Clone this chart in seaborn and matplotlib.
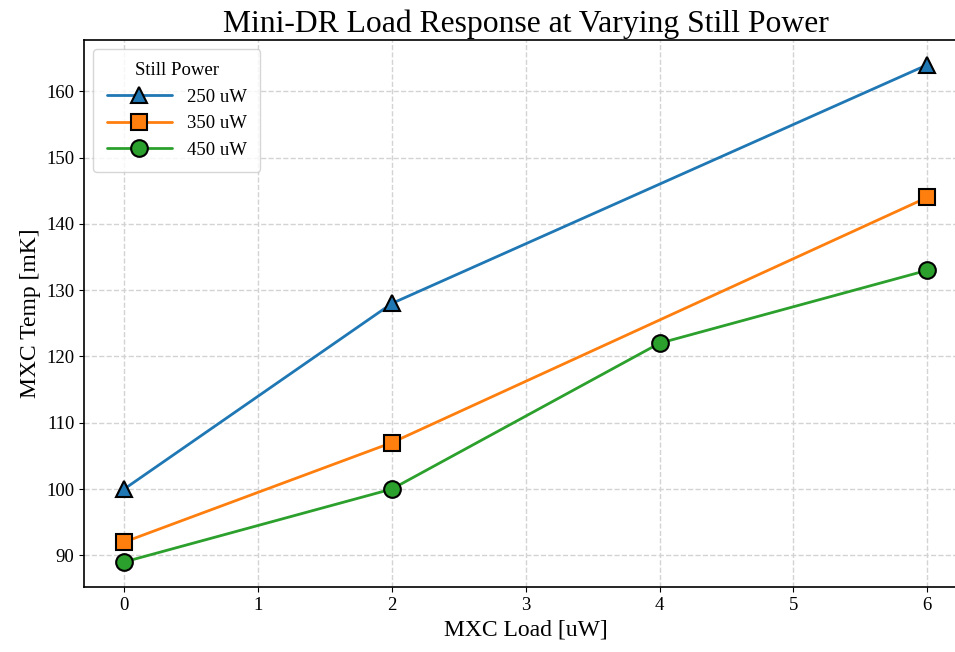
import numpy as np
import pandas as pd
import seaborn as sns
import matplotlib.pyplot as plt

# data
load_250 = [0, 2, 6]
temp_250 = [100, 128, 164]
load_350 = [0, 2, 6]
temp_350 = [92, 107, 144]
load_450 = [0, 2, 4, 6]
temp_450 = [89, 100, 122, 133]
powers = ["250 uW", "350 uW", "450 uW"]

df = pd.concat([
    pd.DataFrame({"load": load_250, "temp": temp_250, "power": powers[0]}),
    pd.DataFrame({"load": load_350, "temp": temp_350, "power": powers[1]}),
    pd.DataFrame({"load": load_450, "temp": temp_450, "power": powers[2]}),
], ignore_index=True)

sns.set_style("ticks")
plt.rcParams['font.family'] = ['Liberation Serif', 'DejaVu Serif']
plt.rcParams['text.color'] = 'black'
plt.rcParams['axes.labelcolor'] = 'black'
plt.rcParams['xtick.color'] = 'black'
plt.rcParams['ytick.color'] = 'black'

fig = plt.figure(figsize=(9.55, 6.52), dpi=100)
# the original image is cropped on the right, so the axes run past the edge
ax = fig.add_axes([0.088, 0.1, 0.925, 0.8387])
palette = dict(zip(powers, ["#1f77b4", "#ff7f0e", "#2ca02c"]))
markers = dict(zip(powers, ["^", "s", "o"]))

sns.lineplot(data=df, x="load", y="temp", hue="power", style="power",
             palette=palette, markers=markers, dashes=False,
             markersize=12, markeredgecolor="black", markeredgewidth=1.5,
             linewidth=2, ax=ax)

ax.set_title("Mini-DR Load Response at Varying Still Power", fontsize=22.8)
ax.set_xlabel("MXC Load [uW]", fontsize=17)
ax.set_ylabel("MXC Temp [mK]", fontsize=17)
ax.tick_params(labelsize=13.5)
ax.grid(True, linestyle="--", color="lightgray", linewidth=1)
for sp in ax.spines.values():
    sp.set_linewidth(1.2)
    sp.set_color("black")

leg = ax.legend(title="Still Power", loc="upper left", fontsize=13.5,
                title_fontsize=13.5, borderpad=0.7, handlelength=3.5)

plt.savefig("out.png", dpi=100)
